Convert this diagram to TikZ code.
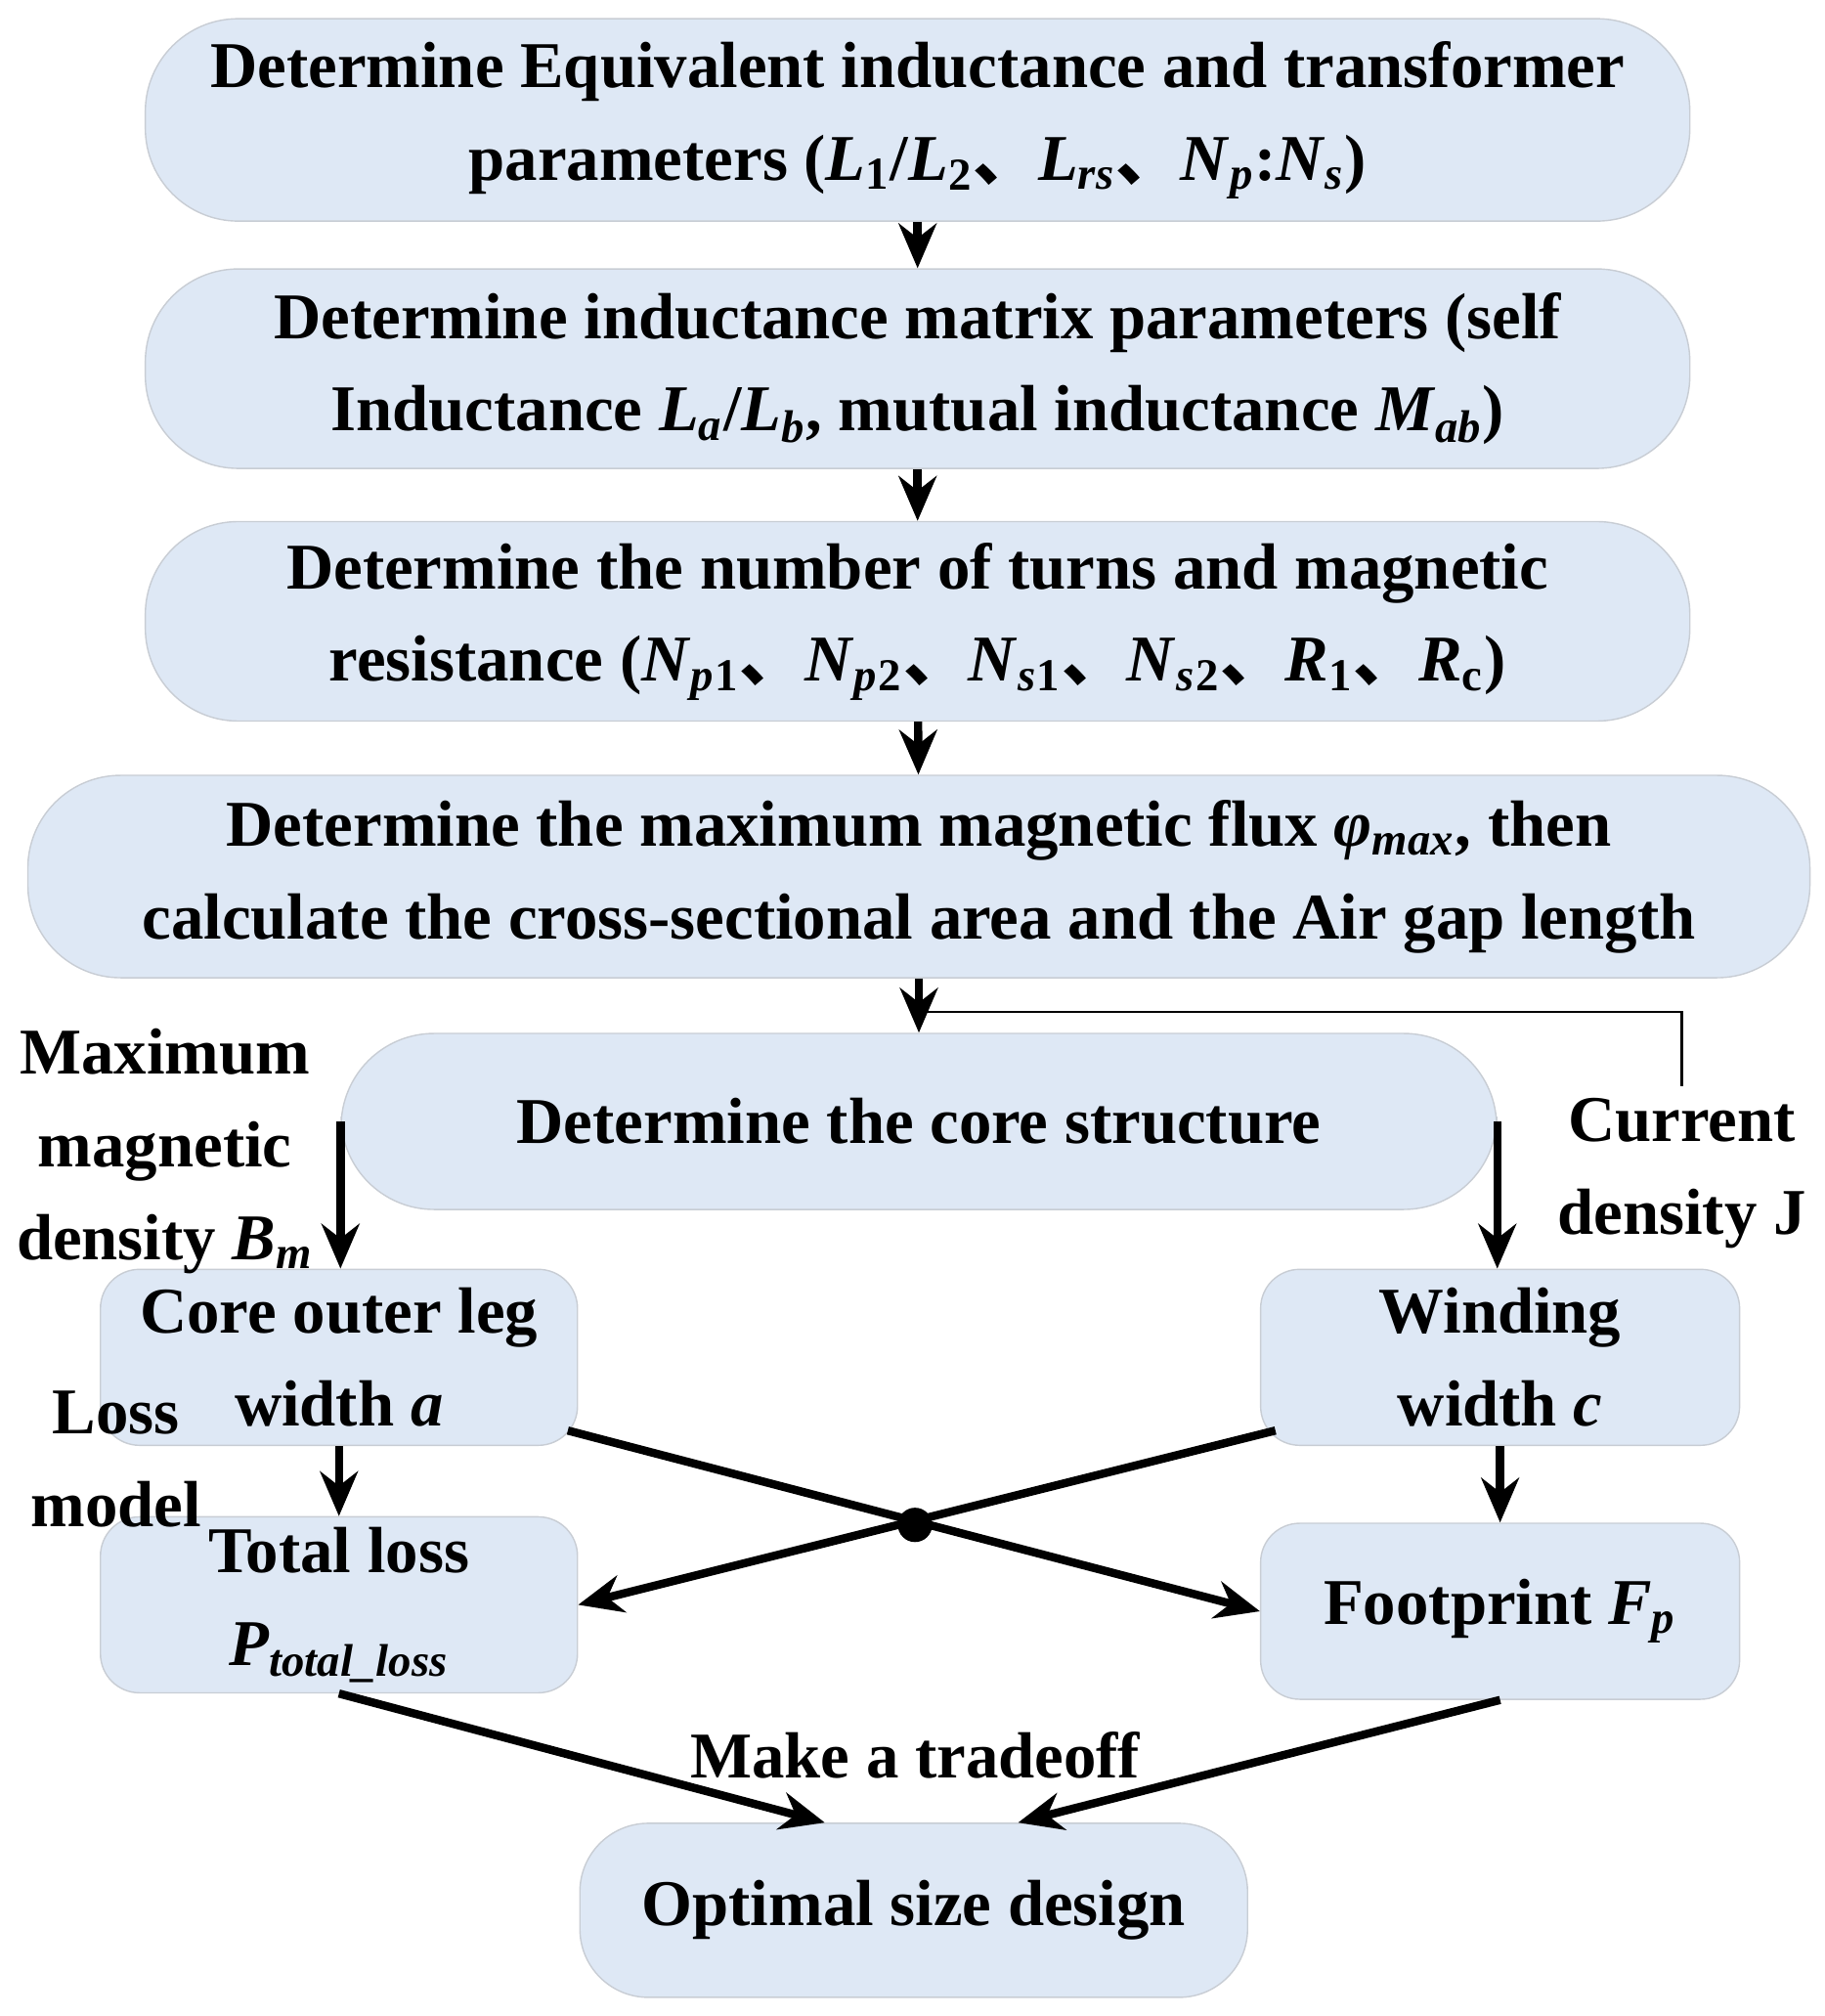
\documentclass[tikz,border=0pt]{standalone}
\usepackage{fontspec}
\setmainfont{Liberation Serif}
\newfontfamily\cjk{Noto Sans CJK SC}
\usetikzlibrary{arrows.meta,calc}
\newcommand{\vi}[1]{\textit{#1}}
\newcommand{\sbi}[1]{\textsubscript{\textit{#1}}}
\newcommand{\sbr}[1]{\textsubscript{#1}}
\newcommand{\dn}{{\cjk 、}}
\definecolor{boxfill}{RGB}{222,232,245}
\definecolor{boxdraw}{RGB}{200,205,212}

\begin{document}
\begin{tikzpicture}[x=0.01318cm,y=-0.01318cm,
  font=\fontsize{19}{27}\selectfont\bfseries,
  stage/.style={draw=boxdraw,fill=boxfill,rounded corners=0.95cm,align=center,inner sep=0pt},
  small/.style={draw=boxdraw,fill=boxfill,rounded corners=0.4cm,align=center,inner sep=0pt},
  flow/.style={line width=2.4pt,-{Stealth[length=13pt,width=11pt]}},
  note/.style={align=center}]
\useasboundingbox (0,0) rectangle (1416,1564);

% Main chain of steps
\node[stage,minimum width=15.8cm,minimum height=2.07cm] (b1) at (712,93)
  {Determine Equivalent inductance and transformer\\
   parameters (\vi{L}\sbr{1}/\vi{L}\sbr{2}\dn\vi{L}\sbi{rs}\dn\vi{N}\sbi{p}:\vi{N}\sbi{s})};
\node[stage,minimum width=15.8cm,minimum height=2.04cm] (b2) at (712,286)
  {Determine inductance matrix parameters (self\\
   Inductance \vi{L}\sbi{a}/\vi{L}\sbi{b}, mutual inductance \vi{M}\sbi{ab})};
\node[stage,minimum width=15.8cm,minimum height=2.04cm] (b3) at (712,482)
  {Determine the number of turns and magnetic\\
   resistance (\vi{N}\sbi{p}\sbr{1}\dn\vi{N}\sbi{p}\sbr{2}\dn\vi{N}\sbi{s}\sbr{1}\dn\vi{N}\sbi{s}\sbr{2}\dn\vi{R}\sbr{1}\dn\vi{R}\sbr{c})};
\node[stage,minimum width=18.23cm,minimum height=2.07cm] (b4) at (713,680)
  {Determine the maximum magnetic flux \vi{φ}\sbi{max}, then\\
   calculate the cross-sectional area and the Air gap length};
\node[stage,minimum width=11.82cm,minimum height=1.8cm] (b5) at (713,870)
  {Determine the core structure};

% Sizing boxes
\node[small,minimum width=4.88cm,minimum height=1.8cm] (b6) at (263,1053) {Core outer leg\\width \vi{a}};
\node[small,minimum width=4.9cm,minimum height=1.8cm] (b7) at (1164,1053) {Winding\\width \vi{c}};
\node[small,minimum width=4.88cm,minimum height=1.8cm] (b8) at (263,1245) {Total loss\\\vi{P}\sbi{total\_loss}};
\node[small,minimum width=4.9cm,minimum height=1.8cm] (b9) at (1164,1250) {Footprint \vi{F}\sbi{p}};
\node[small,minimum width=6.83cm,minimum height=1.78cm,rounded corners=0.7cm] (b10) at (709,1482) {Optimal size design};

% Side labels
\node[note] (lbm) at (128,893) {Maximum\\magnetic\\density \vi{B}\sbi{m}};
\node[note] (lcj) at (1305,910) {Current\\density J};
\node[note] (lloss) at (90,1132) {Loss\\model};
\node[note] (ltrade) at (710,1362) {Make a tradeoff};

% Arrows
\draw[flow] (b1) -- (b2);
\draw[flow] (b2) -- (b3);
\draw[flow] (b3) -- (b4);
\draw[flow] (b4) -- (b5);
\coordinate (fb) at (1305,785);
\draw[line width=0.8pt] (lcj.north) -- (fb) -- (fb -| b5.north);
\draw[flow] (b5.west) -- (b5.west |- b6.north);
\draw[flow] (b5.east) -- (b5.east |- b7.north);
\draw[flow] (b6) -- (b8);
\draw[flow] (b7) -- (b9);
\draw[flow] ($(b6.south east)+(-8,-12)$) -- (b9.west);
\draw[flow] ($(b7.south west)+(12,-12)$) -- (b8.east);
\fill (710,1183) circle (5pt);
\draw[flow] (b8.south) -- ($(b10.north)+(-69,0)$);
\draw[flow] (b9.south) -- ($(b10.north)+(81,0)$);
\end{tikzpicture}
\end{document}
